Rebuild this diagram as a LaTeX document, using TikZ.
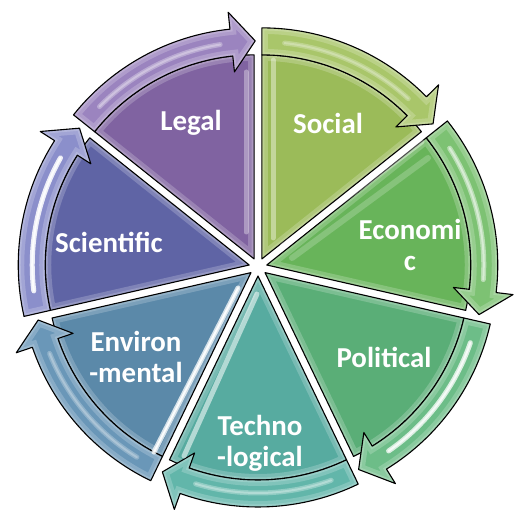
\documentclass[tikz,border=0pt]{standalone}
\usepackage{fontspec}
\setmainfont{Carlito}
\usetikzlibrary{calc}
\definecolor{socW}{HTML}{9BBB59}\definecolor{socA}{HTML}{A9C66A}
\definecolor{ecoW}{HTML}{68B45A}\definecolor{ecoA}{HTML}{7DC273}
\definecolor{polW}{HTML}{5AAE77}\definecolor{polA}{HTML}{6DBD88}
\definecolor{tecW}{HTML}{57ABA0}\definecolor{tecA}{HTML}{62B6AA}
\definecolor{envW}{HTML}{5B89A9}\definecolor{envA}{HTML}{6A97B8}
\definecolor{sciW}{HTML}{5F64A5}\definecolor{sciA}{HTML}{8B8FCB}
\definecolor{legW}{HTML}{8063A1}\definecolor{legA}{HTML}{9B84BF}
\tikzset{
  outline/.style={draw=black, line width=1.1bp, line join=round},
  glowA/.style={draw=white, draw opacity=0.2, line width=12bp},
  glowB/.style={draw=white, draw opacity=0.18, line width=5bp},
  streak/.style={draw=white, line cap=round, line width=#1},
  lbl/.style={text=white, font=\fontsize{29}{31}\selectfont\bfseries, align=center, inner sep=0pt}
}
\begin{document}
\begin{tikzpicture}[x=1bp, y=1bp]
\useasboundingbox (0,0) rectangle (514,510);
\begin{scope}[shift={(258,243)}]
% wedges
\foreach \k/\wc in {0/socW,1/ecoW,2/polW,3/tecW,4/envW,5/sciW,6/legW}{
  \pgfmathsetmacro\s{90-\k*360/7}
  \pgfmathsetmacro\e{\s-360/7}
  \pgfmathsetmacro\m{\s-180/7}
  \begin{scope}[shift={(\m:9)}]
    \def\wedgepath{(0,0) -- (\s:204) arc[start angle=\s, end angle=\e, radius=204] -- cycle}
    \fill[\wc] \wedgepath;
    \begin{scope}
      \clip \wedgepath;
      \path[glowA] \wedgepath;
      \path[glowB] \wedgepath;
    \end{scope}
    \path[outline] \wedgepath;
  \end{scope}
}
% arrows
\foreach \k/\ac/\so in {0/socA/0.25,1/ecoA/0.45,2/polA/0.75,3/tecA/0.3,4/envA/0.25,5/sciA/0.85,6/legA/0.3}{
  \pgfmathsetmacro\s{90-\k*360/7}
  \pgfmathsetmacro\e{\s-360/7}
  \pgfmathsetmacro\m{\s-180/7}
  \pgfmathsetmacro\h{\e+6}
  \pgfmathsetmacro\t{\e-0.3}
  \pgfmathsetmacro\sa{\s-6}
  \pgfmathsetmacro\sb{\e+9}
  \begin{scope}[shift={(\m:9)}]
    \def\arrowpath{(\s:204) -- (\s:231) arc[start angle=\s, end angle=\h, radius=231] -- (\h:248) -- (\t:218) -- (\h:188) -- (\h:204) arc[start angle=\h, end angle=\s, radius=204] -- cycle}
    \fill[\ac] \arrowpath;
    \begin{scope}
      \clip \arrowpath;
      \path[glowA] \arrowpath;
      \path[glowB] \arrowpath;
      \draw[streak=5bp, draw opacity=\so] (\sa:217) arc[start angle=\sa, end angle=\sb, radius=217];
      \draw[streak=2bp, draw opacity=\so] (\sa:217) arc[start angle=\sa, end angle=\sb, radius=217];
    \end{scope}
    \path[outline] \arrowpath;
  \end{scope}
}
\end{scope}
% glossy streaks on wedges
\draw[streak=5bp, draw=white, draw opacity=0.35] (246,438) -- (246,278);
\draw[streak=5bp, draw=white, draw opacity=0.4] (273,450) -- (273,272);
\draw[streak=5bp, draw=white, draw opacity=0.3] (282,264) -- (422,368);
\draw[streak=6bp, draw=white, draw opacity=0.2] (292,252) -- (428,352);
\draw[streak=5bp, draw=white, draw opacity=0.75] (238,222) -- (154,58);
\draw[streak=2bp, draw=white, draw opacity=0.9] (238,222) -- (154,58);
\draw[streak=5bp, draw=white, draw opacity=0.55] (257,216) -- (184,54);
% labels
\node[lbl] (legal) at (191,387) {Legal};
\node[lbl] (social) at (328,387) {Social};
\node[lbl] (economic) at (410,265) {Economi\\c};
\node[lbl] (political) at (384,153) {Political};
\node[lbl] (techno) at (260,67) {Techno\\-logical};
\node[lbl] (environ) at (136,153) {Environ\\-mental};
\node[lbl] (scientific) at (109,268) {Scientific};
\end{tikzpicture}
\end{document}
